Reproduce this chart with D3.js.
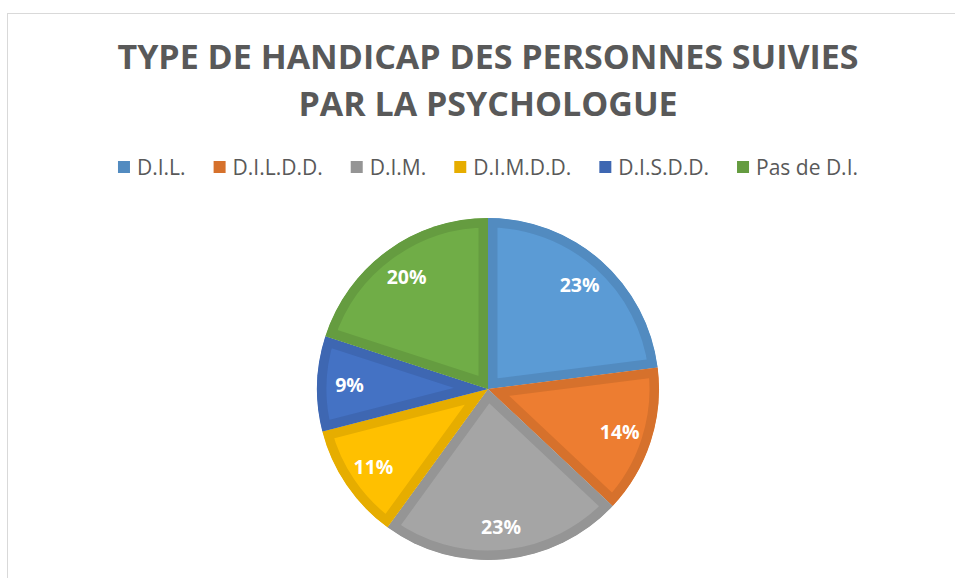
<!DOCTYPE html>
<html>
<head>
<meta charset="utf-8">
<script src="https://cdn.jsdelivr.net/npm/d3@7"></script>
<style>
  body { margin: 0; background: #fff; }
  svg { display: block; }
  .title { font-family: "Open Sans", sans-serif; font-weight: bold; fill: #595959; }
  .legend text { font-family: "Open Sans", sans-serif; fill: #595959; }
  .slice-label { font-family: "Open Sans", sans-serif; font-weight: bold; fill: #fff; }
</style>
</head>
<body>
<div id="chart"></div>
<script>
// data
var categories = ["D.I.L.", "D.I.L.D.D.", "D.I.M.", "D.I.M.D.D.", "D.I.S.D.D.", "Pas de D.I."];
var values = [23, 14, 23, 11, 9, 20];
var fills = ["#5B9BD5", "#ED7D31", "#A5A5A5", "#FFC000", "#4472C4", "#70AD47"];
var borders = ["#528BC0", "#D6712C", "#959595", "#E6AD00", "#3E67B2", "#659C40"];
var titleLines = ["TYPE DE HANDICAP DES PERSONNES SUIVIES", "PAR LA PSYCHOLOGUE"];

var w = 955, h = 578;
var cx = 488, cy = 389, radius = 171;

var svg = d3.select("#chart")
    .append("svg")
    .attr("width", w)
    .attr("height", h);

// chart frame
svg.append("rect")
    .attr("x", 7.5)
    .attr("y", 13.5)
    .attr("width", 1000)
    .attr("height", 700)
    .attr("fill", "none")
    .attr("stroke", "#D9D9D9")
    .attr("stroke-width", 1);

// title
svg.selectAll(".title")
    .data(titleLines)
    .enter()
    .append("text")
    .attr("class", "title")
    .attr("x", cx)
    .attr("y", function(d, i) { return 69 + i * 47; })
    .attr("text-anchor", "middle")
    .style("font-size", "34px")
    .text(function(d) { return d; });

// legend
var legend = svg.append("g").attr("class", "legend");
var markerSize = 12, markerGap = 7, itemGap = 28;
var items = legend.selectAll(".item")
    .data(categories)
    .enter()
    .append("g")
    .attr("class", "item");
items.append("rect")
    .attr("width", markerSize)
    .attr("height", markerSize)
    .attr("y", 161)
    .attr("fill", function(d, i) { return borders[i]; });
items.append("text")
    .attr("x", markerSize + markerGap)
    .attr("y", 175)
    .style("font-size", "21px")
    .text(function(d) { return d; });

var widths = [];
items.each(function() {
    var t = d3.select(this).select("text").node();
    widths.push(markerSize + markerGap + t.getComputedTextLength());
});
var total = d3.sum(widths) + itemGap * (widths.length - 1);
var xpos = cx - total / 2;
items.attr("transform", function(d, i) {
    var x = xpos;
    xpos += widths[i] + itemGap;
    return "translate(" + x + ",0)";
});

// pie
var pie = d3.pie().sort(null).value(function(d) { return d; });
var arc = d3.arc().innerRadius(0).outerRadius(radius);
var labelArc = d3.arc().innerRadius(radius * 0.81).outerRadius(radius * 0.81);
var arcs = pie(values);

// clip each slice so its border sits inside it
var defs = svg.append("defs");
arcs.forEach(function(d, i) {
    defs.append("clipPath")
        .attr("id", "slice-clip" + i)
        .append("path")
        .attr("d", arc(d));
});

var g = svg.append("g")
    .attr("transform", "translate(" + cx + "," + cy + ")");

g.selectAll(".slice")
    .data(arcs)
    .enter()
    .append("path")
    .attr("class", "slice")
    .attr("d", arc)
    .attr("clip-path", function(d, i) { return "url(#slice-clip" + i + ")"; })
    .attr("fill", function(d, i) { return fills[i]; })
    .attr("stroke", function(d, i) { return borders[i]; })
    .attr("stroke-width", 19)
    .attr("stroke-linejoin", "miter");

g.selectAll(".slice-label")
    .data(arcs)
    .enter()
    .append("text")
    .attr("class", "slice-label")
    .attr("transform", function(d) { return "translate(" + labelArc.centroid(d) + ")"; })
    .attr("text-anchor", "middle")
    .attr("dy", "0.36em")
    .style("font-size", "19.5px")
    .text(function(d) { return d.data + "%"; });
</script>
</body>
</html>
